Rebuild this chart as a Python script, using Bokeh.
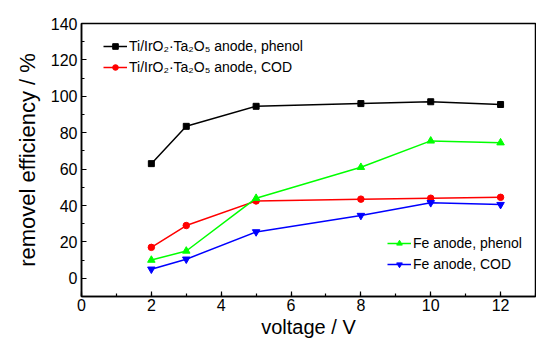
from bokeh.plotting import figure
from bokeh.models import Legend, LegendItem, Range1d, SingleIntervalTicker
from bokeh.embed import file_html
from bokeh.resources import INLINE

voltage = [2, 3, 5, 8, 10, 12]
ti_phenol = [63, 83.5, 94.5, 96, 97, 95.5]
ti_cod = [17, 29, 42.5, 43.5, 44, 44.5]
fe_phenol = [10, 15, 44, 61, 75.5, 74.5]
fe_cod = [5, 10.5, 25.5, 34.5, 41.5, 40.5]

labels = ["Ti/IrO\u2082\u00b7Ta\u2082O\u2085 anode, phenol",
          "Ti/IrO\u2082\u00b7Ta\u2082O\u2085 anode, COD",
          "Fe anode, phenol",
          "Fe anode, COD"]

FONT = "Liberation Sans, Arial, sans-serif"

p = figure(width=536, height=340, output_backend="svg", toolbar_location=None,
           x_range=Range1d(0, 13), y_range=Range1d(-10, 140),
           min_border_left=81, min_border_right=1, min_border_top=23, min_border_bottom=44)
p.background_fill_color = "white"
p.border_fill_color = "white"
p.grid.visible = False
p.outline_line_color = "black"
p.outline_line_width = 1.5

series = [
    (ti_phenol, "#000000", "square", 6),
    (ti_cod, "#ff0000", "circle", 6.5),
    (fe_phenol, "#00ff00", "triangle", 7.5),
    (fe_cod, "#0000ff", "inverted_triangle", 7.5),
]
items = []
for (vals, col, mk, sz), lab in zip(series, labels):
    lr = p.line(voltage, vals, line_color=col, line_width=1.5)
    sr = p.scatter(voltage, vals, marker=mk, size=sz, fill_color=col, line_color=col)
    items.append(LegendItem(label=lab, renderers=[lr, sr]))

for ax in (p.xaxis[0], p.yaxis[0]):
    ax.axis_line_width = 1.5
    ax.axis_line_color = "black"
    ax.major_tick_in = 5
    ax.major_tick_out = 0
    ax.minor_tick_in = 3
    ax.minor_tick_out = 0
    ax.major_tick_line_width = 1.2
    ax.minor_tick_line_width = 1.2
    ax.major_label_text_font = FONT
    ax.major_label_text_font_size = "16px"
    ax.major_label_text_color = "black"
    ax.axis_label_text_font = FONT
    ax.axis_label_text_font_style = "normal"
    ax.axis_label_text_color = "black"

p.xaxis.ticker = SingleIntervalTicker(interval=2, num_minor_ticks=2)
p.yaxis.ticker = SingleIntervalTicker(interval=20, num_minor_ticks=2)
p.xaxis.axis_label = "voltage / V"
p.yaxis.axis_label = "removel efficiency / %"
p.xaxis.axis_label_text_font_size = "20px"
p.yaxis.axis_label_text_font_size = "22px"
p.xaxis.major_label_standoff = 2
p.xaxis.axis_label_standoff = 2
p.yaxis.major_label_standoff = 4
p.yaxis.axis_label_standoff = 8

def make_legend(its, loc):
    lg = Legend(items=its, location=loc, orientation="vertical")
    lg.background_fill_alpha = 0
    lg.border_line_alpha = 0
    lg.padding = 0
    lg.margin = 0
    lg.spacing = 0
    lg.glyph_width = 24
    lg.glyph_height = 14
    lg.label_height = 21
    lg.label_standoff = 2
    lg.label_text_font = FONT
    lg.label_text_font_size = "14px"
    lg.label_text_color = "black"
    return lg

p.add_layout(make_legend(items[:2], (22, 219)), "center")
p.add_layout(make_legend(items[2:], (306, 22)), "center")

open("out.html", "w").write(file_html(p, INLINE))
